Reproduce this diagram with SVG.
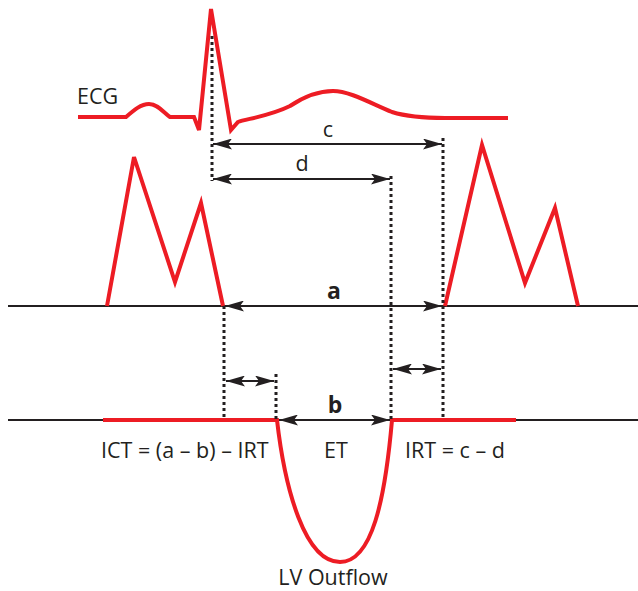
<svg xmlns="http://www.w3.org/2000/svg" width="638" height="591" viewBox="0 0 638 591">
<defs>
<style>
.red{fill:none;stroke:#ED1C24;stroke-width:4;stroke-linejoin:miter;stroke-linecap:butt}
.base{stroke:#231F20;stroke-width:2}
.dot{stroke:#231F20;stroke-width:3;stroke-dasharray:3 3}
.arr{stroke:#231F20;stroke-width:2;marker-start:url(#ah);marker-end:url(#ah)}
.t{font-family:"Open Sans","Liberation Sans",sans-serif;font-size:21.5px;fill:#231F20}
.b{font-family:"Open Sans","Liberation Sans",sans-serif;font-size:23px;font-weight:bold;fill:#231F20}
</style>
<marker id="ah" viewBox="0 0 19 11" refX="19" refY="5.5" markerWidth="19" markerHeight="11" markerUnits="userSpaceOnUse" orient="auto-start-reverse">
<path d="M0,0 L19,5.5 L0,11 L4,5.5 Z" fill="#231F20"/>
</marker>
</defs>
<rect width="638" height="591" fill="#fff"/>
<g id="baselines">
<line class="base" x1="8" y1="306" x2="638" y2="306"/>
<line class="base" x1="8" y1="420" x2="638" y2="420"/>
</g>
<g id="ecg">
<path class="red" d="M78,117 L126,117 C134,110 141,104 149,104 C158,104 164,113 170,117 L194,117 L199,130 L211,9 L231,130 L238,122 C246,119 270,116 290,106 C305,96 318,91 333,91 C350,91 372,104 392,112 C408,117 430,118 445,118 L508,118"/>
<text class="t" x="77" y="104">ECG</text>
</g>
<g id="wave-left">
<path class="red" d="M107,306 L134,157 L175,282 L201,203 L223,306"/>
</g>
<g id="wave-right">
<path class="red" d="M445,306 L482,145 L525,283 L555,208 L578,306"/>
</g>
<g id="lv-outflow">
<path class="red" d="M103,420 L277,420 C285,490 305,562 340,562 C372,562 385,500 392,420 L516,420"/>
<text class="t" x="333" y="585" text-anchor="middle">LV Outflow</text>
</g>
<g id="connectors">
<line class="dot" x1="212" y1="36" x2="212" y2="181"/>
<line class="dot" x1="443" y1="138" x2="443" y2="420"/>
<line class="dot" x1="391" y1="176" x2="391" y2="420"/>
<line class="dot" x1="224" y1="306" x2="224" y2="420"/>
<line class="dot" x1="276" y1="374" x2="276" y2="420"/>
<line class="arr" x1="213" y1="144" x2="442" y2="144"/>
<line class="arr" x1="213" y1="179" x2="390" y2="179"/>
<line class="arr" x1="225" y1="306" x2="442" y2="306"/>
<line class="arr" x1="226" y1="381" x2="274" y2="381"/>
<line class="arr" x1="393" y1="369" x2="441" y2="369"/>
<line class="arr" x1="279" y1="420" x2="390" y2="420"/>
</g>
<g id="labels">
<text class="t" x="328" y="137" text-anchor="middle">c</text>
<text class="t" x="302" y="171" text-anchor="middle">d</text>
<text class="b" x="334" y="299" text-anchor="middle">a</text>
<text class="b" x="335" y="413" text-anchor="middle">b</text>
<text class="t" x="101" y="458">ICT = (a – b) – IRT</text>
<text class="t" x="336" y="458" text-anchor="middle">ET</text>
<text class="t" x="405" y="458">IRT = c – d</text>
</g>
</svg>
